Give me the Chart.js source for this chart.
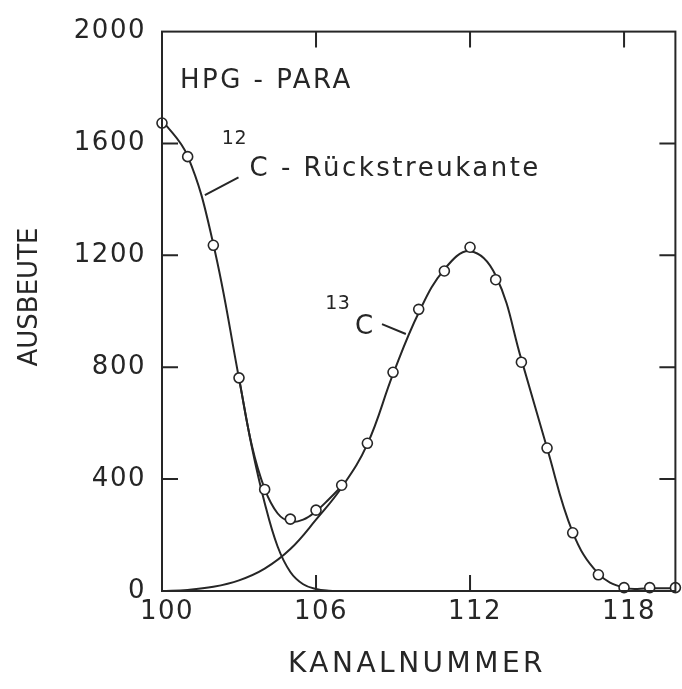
<!DOCTYPE html>
<html><head><meta charset="utf-8">
<script src="https://cdn.jsdelivr.net/npm/chart.js@4/dist/chart.umd.min.js"></script>
<style>html,body{margin:0;padding:0;background:#fff;overflow:hidden}</style>
</head><body>
<canvas id="c" width="682" height="689" style="width:682px;height:689px;display:block"></canvas>
<script>
// ---- data ----
const channels    = [100,101,102,103,104,105,106,107,108,109,110,111,112,113,114,115,116,117,118,119,120];
const yieldValues = [1673,1553,1236,762,363,257,289,378,528,782,1007,1144,1229,1113,818,511,208,58,12,12,12];

// 12C back-scatter edge curve
const c12X = [100,101,102,103,103.5,104,104.5,105,105.5,106,106.5,107];
const c12Y = [1685,1555,1240,760,515,315,160,68,24,7,1,0];
// summed curve in the valley
const sumX = [103,103.5,104,104.5,105,105.5,106,106.5,107];
const sumY = [760,520,365,278,248,255,285,328,375];
// 13C peak curve
const c13X = [100,101,102,103,104,105,106,107,108,109,110,111,112,113,114,115,116,117,118,119,120];
const c13Y = [0,4,15,38,80,150,255,370,525,775,995,1150,1215,1128,828,511,210,62,12,10,10];

const xTicks = [100,106,112,118];
const yTicks = [0,400,800,1200,1600,2000];
const xTitle = 'KANALNUMMER';
const yTitle = 'AUSBEUTE';
const sampleLabel = 'HPG - PARA';
const c12Sup = '12', c12Text = 'C - Rückstreukante';
const c13Sup = '13', c13Text = 'C';

const INK = '#262626';
const FONT = "'DejaVu Sans', sans-serif";
const xy = (xs, ys) => xs.map((x, i) => ({x, y: ys[i]}));

const curveStyle = {
  type: 'line', showLine: true, pointRadius: 0, borderColor: INK,
  borderWidth: 2, tension: 0.4, fill: false
};

const framePlugin = {
  id: 'frame',
  beforeDraw(chart) { chart.ctx.letterSpacing = '1.5px'; },
  afterDatasetsDraw(chart) {
    const {ctx, chartArea: a, scales: {x, y}} = chart;
    ctx.save();
    ctx.strokeStyle = INK; ctx.lineWidth = 2;
    ctx.strokeRect(a.left, a.top, a.right - a.left, a.bottom - a.top);
    const L = 16;
    ctx.beginPath();
    yTicks.slice(1, -1).forEach(v => {
      const py = y.getPixelForValue(v);
      ctx.moveTo(a.left, py); ctx.lineTo(a.left + L, py);
      ctx.moveTo(a.right, py); ctx.lineTo(a.right - L, py);
    });
    xTicks.slice(1).forEach(v => {
      const px = x.getPixelForValue(v);
      ctx.moveTo(px, a.top); ctx.lineTo(px, a.top + L);
      if (v < 118) { ctx.moveTo(px, a.bottom); ctx.lineTo(px, a.bottom - L); }
    });
    ctx.stroke();

    ctx.fillStyle = INK;
    ctx.textBaseline = 'middle';

    // axis titles
    ctx.textAlign = 'center';
    ctx.font = `28px ${FONT}`;
    ctx.letterSpacing = '3.5px';
    ctx.fillText(xTitle, 417, 665);
    ctx.save();
    ctx.translate(30, 297);
    ctx.rotate(-Math.PI / 2);
    ctx.font = `26px ${FONT}`;
    ctx.letterSpacing = '0px';
    ctx.fillText(yTitle, 0, 0);
    ctx.restore();

    // annotations (anchored in data coordinates)
    ctx.textAlign = 'left';
    ctx.letterSpacing = '2.5px';
    ctx.font = `26px ${FONT}`;
    ctx.fillText(sampleLabel, x.getPixelForValue(100.7), y.getPixelForValue(1824));
    ctx.fillText(c12Text, x.getPixelForValue(103.41), y.getPixelForValue(1507));
    ctx.fillText(c13Text, x.getPixelForValue(107.52), y.getPixelForValue(944));
    ctx.font = `19px ${FONT}`;
    ctx.letterSpacing = '0.5px';
    ctx.fillText(c12Sup, x.getPixelForValue(102.33), y.getPixelForValue(1616));
    ctx.fillText(c13Sup, x.getPixelForValue(106.36), y.getPixelForValue(1025));
    // leader lines
    ctx.lineWidth = 2;
    ctx.beginPath();
    ctx.moveTo(x.getPixelForValue(101.67), y.getPixelForValue(1415));
    ctx.lineTo(x.getPixelForValue(102.98), y.getPixelForValue(1479));
    ctx.moveTo(x.getPixelForValue(108.57), y.getPixelForValue(954));
    ctx.lineTo(x.getPixelForValue(109.5), y.getPixelForValue(919));
    ctx.stroke();
    ctx.restore();
  }
};

new Chart(document.getElementById('c'), {
  type: 'scatter',
  data: {
    datasets: [
      Object.assign({label: '12C', data: xy(c12X, c12Y)}, curveStyle),
      Object.assign({label: 'Summe', data: xy(sumX, sumY)}, curveStyle),
      Object.assign({label: '13C', data: xy(c13X, c13Y)}, curveStyle),
      {
        label: 'Ausbeute', data: xy(channels, yieldValues), showLine: false,
        pointRadius: 5, pointBorderWidth: 1.6, pointBackgroundColor: '#fff',
        pointBorderColor: INK, clip: false, order: -1
      }
    ]
  },
  options: {
    responsive: false, animation: false, devicePixelRatio: 1,
    layout: {padding: {left: 0, right: 4, top: 23, bottom: 0}},
    plugins: {legend: {display: false}, tooltip: {enabled: false}},
    scales: {
      x: {
        type: 'linear', min: 100, max: 120,
        afterBuildTicks: s => { s.ticks = xTicks.map(v => ({value: v})); },
        grid: {display: false, drawTicks: false}, border: {display: false},
        ticks: {color: INK, font: {family: FONT, size: 26}, padding: 6, labelOffset: 5,
                maxRotation: 0, autoSkip: false, callback: v => String(v)},
        title: {display: false, text: xTitle},
        afterFit: s => { s.height = 98; }
      },
      y: {
        type: 'linear', min: 0, max: 2000,
        afterBuildTicks: s => { s.ticks = yTicks.map(v => ({value: v})); },
        grid: {display: false, drawTicks: false}, border: {display: false},
        ticks: {color: INK, font: {family: FONT, size: 26}, padding: 16, callback: v => String(v)},
        title: {display: false, text: yTitle},
        afterFit: s => { s.width = 162; }
      }
    }
  },
  plugins: [framePlugin]
});
</script>
</body></html>
